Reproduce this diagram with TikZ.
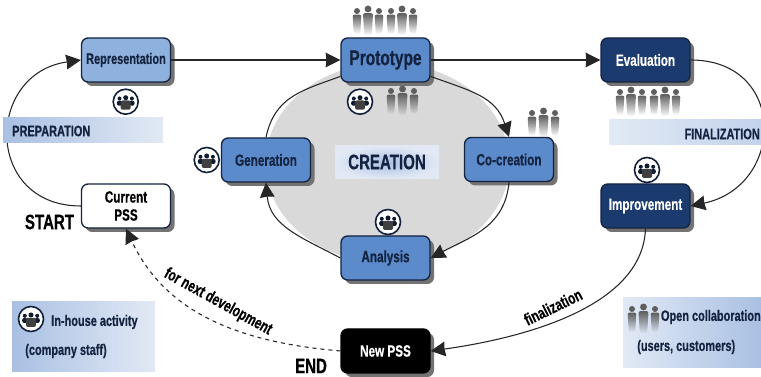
\documentclass[tikz,border=0pt]{standalone}
\usepackage{fontspec}
\setmainfont[FakeStretch=0.72,BoldFeatures={FakeBold=0.5}]{Liberation Sans}
\usetikzlibrary{arrows.meta,shadows,fadings}
\definecolor{inkblue}{HTML}{14233F}
\definecolor{midblue}{HTML}{5B8BCB}
\definecolor{paleblue}{HTML}{8FB1DD}
\definecolor{navyblue}{HTML}{1B3A6E}
\definecolor{bandstrong}{HTML}{A9C0E3}
\definecolor{bandweak}{HTML}{E2E9F5}
\definecolor{personcol}{HTML}{5E5E5E}
\tikzset{
  stage/.style={draw=inkblue,line width=1pt,rounded corners=5,minimum width=66.75pt,minimum height=33pt,inner sep=0pt,
    fill=midblue,text=inkblue,font=\bfseries\fontsize{12.2}{13.5}\selectfont,align=center,
    drop shadow={shadow xshift=3pt,shadow yshift=-3pt,fill=black!55,opacity=1}},
  darkstage/.style={stage,fill=navyblue,text=white},
  conn/.style={draw=black!85,line width=0.8pt,-{Stealth[length=11pt,width=11pt,inset=0.5pt]}},
  band/.style={minimum height=18.75pt,inner sep=0pt,shading=axis,shading angle=90},
  bandlabel/.style={font=\bfseries\fontsize{11.4}{13}\selectfont,text=inkblue,inner sep=0pt},
  curvelabel/.style={font=\bfseries\fontsize{12.4}{14}\selectfont,text=black,inner sep=0pt},
  bigword/.style={font=\bfseries\fontsize{15.7}{18}\selectfont,text=black,inner sep=0pt},
  person/.pic={
    \fill[personcol] (0,0) circle (3);
    \fill[personcol,path fading=south,rounded corners=1.5] (-4.4,-3.6) -- (4.4,-3.6) -- (3.2,-23) -- (-3.2,-23) -- cycle;
  },
  crowdsix/.pic={
    \foreach \px/\py/\ps in {0/0/1,11/2/1.15,22/0/1,34/0/1,45/2/1.15,56/0/1}
      \pic[scale=\ps] at (\px,\py) {person};
  },
  crowdthree/.pic={
    \foreach \px/\py/\ps in {0/0/1,11.5/2/1.15,23/0/1}
      \pic[scale=\ps] at (\px,\py) {person};
  },
  inhouse/.pic={
    \draw[draw=inkblue!90!black,line width=1.2pt,fill=white] (0,0) circle (12.5);
    \fill[inkblue!80!black] (-6.2,3.2) circle (2) (6.2,3.2) circle (2) (0,4) circle (2.5);
    \fill[inkblue!80!black,rounded corners=1.5] (-8.8,-4) rectangle (-3.5,1) (3.5,-4) rectangle (8.8,1);
    \fill[black!75,rounded corners=1.5] (-5,-8) rectangle (5,1.2);
  },
}
\begin{document}
\begin{tikzpicture}[x=0.75pt,y=0.75pt]
  \useasboundingbox (0,0) rectangle (761,377);
  %gray ellipse
  \fill[black!15] (387.5,214) ellipse (122 and 100);
  %boxes
  \node[stage,fill=paleblue,font=\bfseries\fontsize{11.4}{13}\selectfont] (representation) at (126,317) {Representation};
  \node[stage,fill=white,text=black] (current) at (126,171) {Current\\PSS};
  \node[stage,font=\bfseries\fontsize{16.1}{18}\selectfont] (prototype) at (385.5,317) {Prototype};
  \node[darkstage] (evaluation) at (645.5,317) {Evaluation};
  \node[darkstage] (improvement) at (645.5,171) {Improvement};
  \node[stage] (generation) at (266,217) {Generation};
  \node[stage] (cocreation) at (509,217.5) {Co-creation};
  \node[stage] (analysis) at (385.5,119) {Analysis};
  \node[stage,fill=black,draw=black,text=white] (newpss) at (385.5,26) {New PSS};
  %arrows
  \draw[conn] (current.west) to[out=180,in=188,looseness=1.7] (representation.west);
  \draw[conn] (representation.east) -- (prototype.west);
  \draw[conn] (prototype.east) -- (evaluation.west);
  \draw[conn] (evaluation.east) to[out=0,in=12,looseness=1.7] (improvement.east);
  \draw[conn] (prototype.-20) to[out=-20,in=108,looseness=1.1] (cocreation.north);
  \draw[conn] (cocreation.south) to[out=-95,in=28,looseness=1.05] (analysis.east);
  \draw[conn] (analysis.west) to[out=152,in=-85,looseness=1.05] (generation.south);
  \draw[draw=black!85,line width=0.8pt] (generation.north) to[out=78,in=200,looseness=1.1] (prototype.200);
  \draw[conn] (improvement.south) to[out=-92,in=8,looseness=0.85] (newpss.east);
  \draw[conn,dashed] (newpss.west) to[out=175,in=-65] (current.south);
  %bands
  \node[band,minimum width=120pt,left color=bandstrong,right color=bandweak] (prepband) at (83,246.5) {};
  \node[bandlabel,anchor=west] (preplabel) at (12,246) {PREPARATION};
  \node[band,minimum width=114pt,left color=bandweak,right color=bandstrong!70!white] (finalband) at (685,244.5) {};
  \node[bandlabel,anchor=east] (finallabel) at (760,243) {FINALIZATION};
  \node[minimum width=78pt,minimum height=24.75pt,inner sep=0pt,inner color=bandstrong,outer color=bandweak] (creationband) at (387,214.5) {};
  \node[bigword,text=inkblue] (creation) at (387,215) {CREATION};
  %legends
  \node[minimum width=107.25pt,minimum height=52.5pt,inner sep=0pt,left color=bandstrong,right color=bandweak] (legendleft) at (83.5,40) {};
  \node[minimum width=103.5pt,minimum height=52.5pt,inner sep=0pt,left color=bandweak,right color=bandstrong] (legendright) at (692,44) {};
  \node[bandlabel,anchor=west] (inhousetext) at (51,55) {In-house activity};
  \node[bandlabel,anchor=west] (staffnote) at (25,26) {(company staff)};
  \node[bandlabel,anchor=east] (opentext) at (761,60) {Open collaboration};
  \node[bandlabel,anchor=west] (usersnote) at (637,30) {(users, customers)};
  %curve texts
  \node[curvelabel,rotate=-29] (nextlabel) at (218,75) {for next development};
  \node[curvelabel,rotate=26] (finlabel) at (553,70) {finalization};
  \node[bigword] (startlabel) at (49.5,155) {START};
  \node[bigword] (endlabel) at (311,11) {END};
  %icons
  \pic at (125.7,275.3) {inhouse};
  \pic at (206.7,217) {inhouse};
  \pic at (360,275.3) {inhouse};
  \pic at (388,155) {inhouse};
  \pic at (647,207) {inhouse};
  \pic at (31,58) {inhouse};
  \pic at (357,366) {crowdsix};
  \pic at (391,286) {crowdthree};
  \pic at (532,264) {crowdthree};
  \pic at (620,285) {crowdsix};
  \pic at (632,68) {crowdthree};
\end{tikzpicture}
\end{document}
